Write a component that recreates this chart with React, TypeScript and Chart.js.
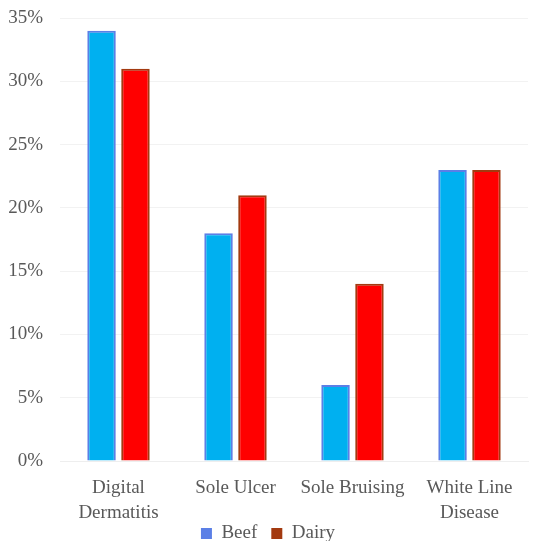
import React, { useEffect, useRef } from "react";
import { Chart, registerables } from "chart.js";

Chart.register(...registerables);

const categories: string[][] = [["Digital", "Dermatitis"], ["Sole Ulcer"], ["Sole Bruising"], ["White Line", "Disease"]];
const beefValues = [34, 18, 6, 23];
const dairyValues = [31, 21, 14, 23];
const yTicks = [0, 5, 10, 15, 20, 25, 30, 35];

const extendXLabelArea = {
  id: "extendXLabelArea",
  afterLayout(chart: any) {
    const xs = chart.scales.x;
    if (xs) {
      xs.bottom = chart.height;
    }
  },
};

export default function App() {
  const ref = useRef<HTMLCanvasElement>(null);
  useEffect(() => {
    if (!ref.current) return;
    const font = { family: "'Liberation Serif', serif", size: 19, lineHeight: 1.2 };
    const xFont = { family: "'Liberation Serif', serif", size: 19, lineHeight: 1.3 };
    const chart = new Chart(ref.current, {
      type: "bar",
      data: {
        labels: categories,
        datasets: [
          { label: "Beef", data: beefValues, backgroundColor: "#00B0F0", borderColor: "#5B7FE6", borderWidth: 2, categoryPercentage: 0.58, barPercentage: 0.84 },
          { label: "Dairy", data: dairyValues, backgroundColor: "#FF0000", borderColor: "#A33A10", borderWidth: 2, categoryPercentage: 0.58, barPercentage: 0.84 },
        ],
      },
      plugins: [extendXLabelArea],
      options: {
        animation: false,
        responsive: true,
        maintainAspectRatio: false,
        layout: { padding: { left: 0, right: 14, top: 0, bottom: 0 } },
        plugins: {
          tooltip: { enabled: false },
          legend: {
            position: "bottom",
            maxHeight: 31,
            labels: {
              font,
              color: "#595959",
              boxWidth: 11,
              boxHeight: 11,
              padding: 14,
              generateLabels: (c: any) =>
                c.data.datasets.map((d: any, i: number) => ({
                  text: d.label,
                  fillStyle: d.borderColor,
                  strokeStyle: d.borderColor,
                  lineWidth: 0,
                  fontColor: "#595959",
                  datasetIndex: i,
                  hidden: false,
                })),
            },
          },
        },
        scales: {
          x: {
            grid: { display: false, drawTicks: false },
            border: { color: "#EEEEEE" },
            ticks: { font: xFont, color: "#595959", maxRotation: 0, padding: 15 },
            afterFit: (s: any) => {
              s.height = 49;
              s.paddingLeft = 0;
              s.paddingRight = 0;
            },
          },
          y: {
            min: 0,
            max: 35,
            afterBuildTicks: (s: any) => {
              s.ticks = yTicks.map((v) => ({ value: v }));
            },
            grid: { color: "#F2F2F2", drawTicks: false },
            border: { display: false },
            ticks: { font, color: "#595959", padding: 17, callback: (v: any) => v + "%" },
            afterFit: (s: any) => {
              s.width = 52;
              s.paddingTop = 10;
              s.paddingBottom = 0;
            },
          },
        },
      },
    });
    return () => chart.destroy();
  }, []);
  return (
    <div style={{ width: 534, height: 533, position: "relative" }}>
      <canvas ref={ref} />
    </div>
  );
}
